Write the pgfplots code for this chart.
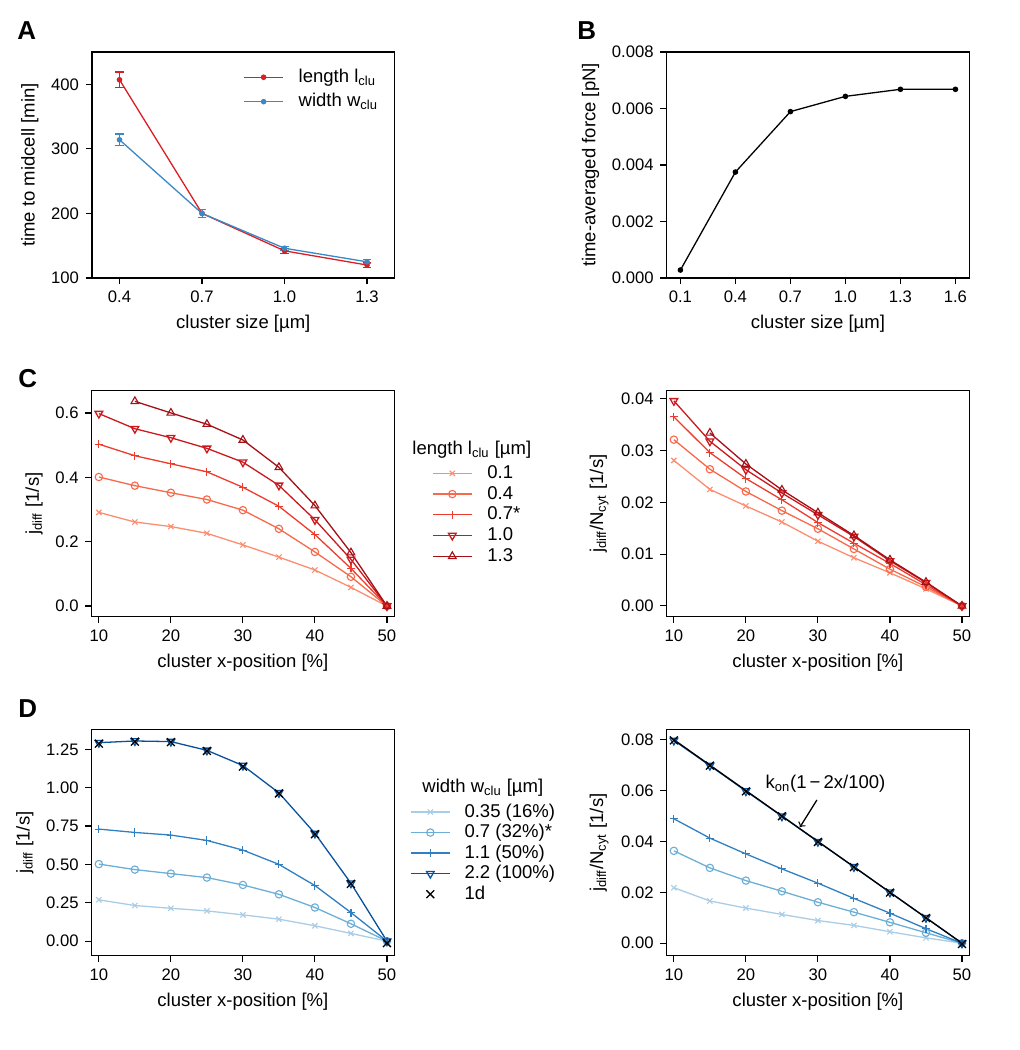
\documentclass[border=0pt]{standalone}
\usepackage{fontspec}
\setmainfont{Liberation Sans}
\usepackage{pgfplots}
\pgfplotsset{compat=1.18}
\definecolor{redA}{HTML}{DC1E24}
\definecolor{blueA}{HTML}{3A88C6}
\definecolor{rc1}{HTML}{FC8D6E}
\definecolor{rc2}{HTML}{F8684A}
\definecolor{rc3}{HTML}{EF3B2C}
\definecolor{rc4}{HTML}{CB181D}
\definecolor{rc5}{HTML}{A50F15}
\definecolor{bc1}{HTML}{A9CDE6}
\definecolor{bc2}{HTML}{6BAED6}
\definecolor{bc3}{HTML}{2F7FC1}
\definecolor{bc4}{HTML}{08519C}
\pgfplotsset{
  panel/.style={scale only axis, width=163.35pt, height=122pt, anchor=south west,
    tick align=outside, xtick pos=left, ytick pos=left, major tick length=3.5pt,
    axis line style={line width=0.6pt},
    every tick/.style={black, line width=0.6pt},
    tick label style={font=\fontsize{9}{10}\selectfont},
    label style={font=\fontsize{10}{12}\selectfont},
    /pgf/number format/assume math mode=true,
    scaled ticks=false,
    legend cell align=left,
    legend image code/.code={\draw[mark repeat=2,mark phase=2] plot coordinates {(0pt,0pt) (10.5pt,0pt) (21pt,0pt)};},
    legend style={draw=none, fill=none, inner sep=0pt, font=\fontsize{10}{12}\selectfont,
      nodes={inner sep=0pt, text height=7.5pt, text depth=2pt}},
  },
  ser/.style={line width=0.7pt, mark options={solid, line width=0.6pt}},
}
\begin{document}
\begin{tikzpicture}
\path (0,0) rectangle (550.8pt,567pt);
% panel letters
\tikzset{plet/.style={anchor=base west, inner sep=0pt, font=\fontsize{14}{16}\selectfont\bfseries}}
\node[plet] at (9.2pt,545.4pt) {A};
\node[plet] at (311.6pt,545.4pt) {B};
\node[plet] at (9.7pt,358pt) {C};
\node[plet] at (9.7pt,179.8pt) {D};

% ---------- A ----------
\begin{axis}[panel, at={(49.7pt,416.9pt)},
  xmin=0.3, xmax=1.4, ymin=100, ymax=450,
  xtick={0.4,0.7,1.0,1.3}, ytick={100,200,300,400},
  xticklabel style={/pgf/number format/.cd, fixed, fixed zerofill, precision=1},
  xlabel={cluster size [µm]}, ylabel={time to midcell [min]},
  legend style={at={(0.4995,0.929)}, anchor=north west, row sep=3.7pt, column sep=8.1pt}]
\addplot[ser, redA, mark=*, mark size=1.2pt,
  error bars/.cd, y dir=both, y explicit, error mark=-, error mark options={rotate=90, redA, mark size=2.2pt, line width=0.6pt}]
  coordinates {(0.4,407) +- (0,12) (0.7,200) +- (0,6) (1.0,142) +- (0,4) (1.3,120) +- (0,4)};
\addlegendentry{length l\textsubscript{clu}}
\addplot[ser, blueA, mark=*, mark size=1.2pt,
  error bars/.cd, y dir=both, y explicit, error mark=-, error mark options={rotate=90, blueA, mark size=2.2pt, line width=0.6pt}]
  coordinates {(0.4,314) +- (0,9) (0.7,200) +- (0,6) (1.0,146) +- (0,3) (1.3,125) +- (0,3)};
\addlegendentry{width w\textsubscript{clu}}
\end{axis}

% ---------- B ----------
\begin{axis}[panel, at={(360pt,416.9pt)},
  xmin=0.025, xmax=1.675, ymin=0, ymax=0.008,
  xtick={0.1,0.4,0.7,1.0,1.3,1.6}, ytick={0,0.002,0.004,0.006,0.008},
  xticklabel style={/pgf/number format/.cd, fixed, fixed zerofill, precision=1},
  yticklabel style={/pgf/number format/.cd, fixed, fixed zerofill, precision=3},
  xlabel={cluster size [µm]}, ylabel={time-averaged force [pN]}]
\addplot[ser, black, mark=*, mark size=1.2pt]
  coordinates {(0.1,0.00028) (0.4,0.00375) (0.7,0.00589) (1.0,0.00643) (1.3,0.00668) (1.6,0.00668)};
\end{axis}

% ---------- C left ----------
\begin{axis}[panel, at={(49.5pt,234pt)},
  xmin=9, xmax=51, ymin=-0.033, ymax=0.669,
  xtick={10,20,30,40,50}, ytick={0,0.2,0.4,0.6},
  yticklabel style={/pgf/number format/.cd, fixed, fixed zerofill, precision=1},
  xlabel={cluster x-position [\%]}, ylabel={j\textsubscript{diff} [1/s]},
  legend style={at={(1.1246,0.675)}, anchor=north west, row sep=1.7pt, column sep=8.1pt}]
\addplot[ser, rc1, mark=x, mark size=2pt] coordinates {(10,0.291)(15,0.261)(20,0.247)(25,0.226)(30,0.190)(35,0.152)(40,0.112)(45,0.058)(50,0)};
\addlegendentry{0.1}
\addplot[ser, rc2, mark=o, mark size=2pt] coordinates {(10,0.401)(15,0.374)(20,0.352)(25,0.331)(30,0.298)(35,0.240)(40,0.168)(45,0.091)(50,0)};
\addlegendentry{0.4}
\addplot[ser, rc3, mark=+, mark size=2.2pt] coordinates {(10,0.503)(15,0.467)(20,0.442)(25,0.417)(30,0.369)(35,0.310)(40,0.222)(45,0.117)(50,0)};
\addlegendentry{0.7*}
\addplot[ser, rc4, mark=triangle, mark size=2.4pt, mark options={rotate=180}] coordinates {(10,0.598)(15,0.551)(20,0.523)(25,0.490)(30,0.447)(35,0.375)(40,0.268)(45,0.145)(50,0)};
\addlegendentry{1.0}
\addplot[ser, rc5, mark=triangle, mark size=2.4pt] coordinates {(15,0.636)(20,0.600)(25,0.565)(30,0.516)(35,0.431)(40,0.312)(45,0.166)(50,0)};
\addlegendentry{1.3}
\end{axis}
\node[anchor=west, inner sep=0pt, font=\fontsize{10}{12}\selectfont] at (222.5pt,324pt) {length l\textsubscript{clu} [µm]};

% ---------- C right ----------
\begin{axis}[panel, at={(360pt,234pt)},
  xmin=9, xmax=51, ymin=-0.00207, ymax=0.04155,
  xtick={10,20,30,40,50}, ytick={0,0.01,0.02,0.03,0.04},
  yticklabel style={/pgf/number format/.cd, fixed, fixed zerofill, precision=2},
  xlabel={cluster x-position [\%]}, ylabel={j\textsubscript{diff}/N\textsubscript{cyt} [1/s]}]
\addplot[ser, rc1, mark=x, mark size=2pt] coordinates {(10,0.0281)(15,0.0225)(20,0.0193)(25,0.0162)(30,0.0125)(35,0.0093)(40,0.0064)(45,0.0033)(50,0)};
\addplot[ser, rc2, mark=o, mark size=2pt] coordinates {(10,0.0321)(15,0.0264)(20,0.0221)(25,0.0184)(30,0.0149)(35,0.0110)(40,0.0071)(45,0.0037)(50,0)};
\addplot[ser, rc3, mark=+, mark size=2.2pt] coordinates {(10,0.0365)(15,0.0296)(20,0.0246)(25,0.0205)(30,0.0161)(35,0.0121)(40,0.0082)(45,0.0041)(50,0)};
\addplot[ser, rc4, mark=triangle, mark size=2.4pt, mark options={rotate=180}] coordinates {(10,0.0396)(15,0.0318)(20,0.0263)(25,0.0218)(30,0.0176)(35,0.0134)(40,0.0087)(45,0.0045)(50,0)};
\addplot[ser, rc5, mark=triangle, mark size=2.4pt] coordinates {(15,0.0334)(20,0.0274)(25,0.0224)(30,0.0180)(35,0.0136)(40,0.0089)(45,0.0046)(50,0)};
\end{axis}

% ---------- D left ----------
\begin{axis}[panel, at={(49.5pt,51pt)},
  xmin=9, xmax=51, ymin=-0.094, ymax=1.378,
  xtick={10,20,30,40,50}, ytick={0,0.25,0.5,0.75,1.0,1.25},
  yticklabel style={/pgf/number format/.cd, fixed, fixed zerofill, precision=2},
  xlabel={cluster x-position [\%]}, ylabel={j\textsubscript{diff} [1/s]},
  legend style={at={(1.052,0.676)}, anchor=north west, row sep=1.6pt, column sep=7.6pt}]
\addplot[ser, bc1, mark=x, mark size=2pt] coordinates {(10,0.269)(15,0.232)(20,0.214)(25,0.197)(30,0.171)(35,0.143)(40,0.100)(45,0.050)(50,0)};
\addlegendentry{0.35 (16\%)}
\addplot[ser, bc2, mark=o, mark size=2pt] coordinates {(10,0.502)(15,0.466)(20,0.440)(25,0.414)(30,0.366)(35,0.305)(40,0.219)(45,0.113)(50,0)};
\addlegendentry{0.7 (32\%)*}
\addplot[ser, bc3, mark=+, mark size=2.2pt] coordinates {(10,0.730)(15,0.708)(20,0.691)(25,0.656)(30,0.593)(35,0.500)(40,0.362)(45,0.186)(50,0)};
\addlegendentry{1.1 (50\%)}
\addplot[ser, bc4, mark=triangle, mark size=2.4pt, mark options={rotate=180}] coordinates {(10,1.293)(15,1.304)(20,1.300)(25,1.243)(30,1.144)(35,0.966)(40,0.702)(45,0.377)(50,0)};
\addlegendentry{2.2 (100\%)}
\addplot[only marks, black, mark=x, mark size=3pt, mark options={line width=0.7pt},
  legend image code/.code={\draw plot coordinates {(10.5pt,0pt)};}]
  coordinates {(10,1.287)(15,1.300)(20,1.297)(25,1.239)(30,1.137)(35,0.962)(40,0.697)(45,0.373)(50,-0.013)};
\addlegendentry{1d}
\end{axis}
\node[anchor=west, inner sep=0pt, font=\fontsize{10}{12}\selectfont] at (227.9pt,141.5pt) {width w\textsubscript{clu} [µm]};

% ---------- D right ----------
\begin{axis}[panel, at={(360pt,51pt)},
  xmin=9, xmax=51, ymin=-0.00486, ymax=0.08395,
  xtick={10,20,30,40,50}, ytick={0,0.02,0.04,0.06,0.08},
  yticklabel style={/pgf/number format/.cd, fixed, fixed zerofill, precision=2},
  xlabel={cluster x-position [\%]}, ylabel={j\textsubscript{diff}/N\textsubscript{cyt} [1/s]}]
\addplot[ser, bc1, mark=x, mark size=2pt] coordinates {(10,0.0218)(15,0.0166)(20,0.0138)(25,0.0113)(30,0.0089)(35,0.0070)(40,0.0045)(45,0.0021)(50,0)};
\addplot[ser, bc2, mark=o, mark size=2pt] coordinates {(10,0.0363)(15,0.0296)(20,0.0246)(25,0.0204)(30,0.0161)(35,0.0122)(40,0.0082)(45,0.0041)(50,0)};
\addplot[ser, bc3, mark=+, mark size=2.2pt] coordinates {(10,0.0489)(15,0.0413)(20,0.0351)(25,0.0292)(30,0.0236)(35,0.0176)(40,0.0118)(45,0.0057)(50,0)};
\addplot[ser, bc4, mark=triangle, mark size=2.4pt, mark options={rotate=180}] coordinates {(10,0.0797)(15,0.0698)(20,0.0598)(25,0.0499)(30,0.0399)(35,0.0300)(40,0.0200)(45,0.0100)(50,0)};
\addplot[black, line width=0.7pt] coordinates {(10,0.08)(50,0)};
\addplot[only marks, black, mark=x, mark size=3pt, mark options={line width=0.7pt}]
  coordinates {(10,0.0797)(15,0.0698)(20,0.0597)(25,0.0499)(30,0.0398)(35,0.0299)(40,0.0199)(45,0.0099)(50,-0.0003)};
\node[anchor=west, inner sep=0pt, font=\fontsize{10}{12}\selectfont] at (axis cs:22.68,0.0625) {k\textsubscript{on}(1\,−\,2x/100)};
\draw[->, line width=0.7pt] (axis cs:29.86,0.0563) -- (axis cs:27.5,0.0456);
\end{axis}
\end{tikzpicture}
\end{document}
